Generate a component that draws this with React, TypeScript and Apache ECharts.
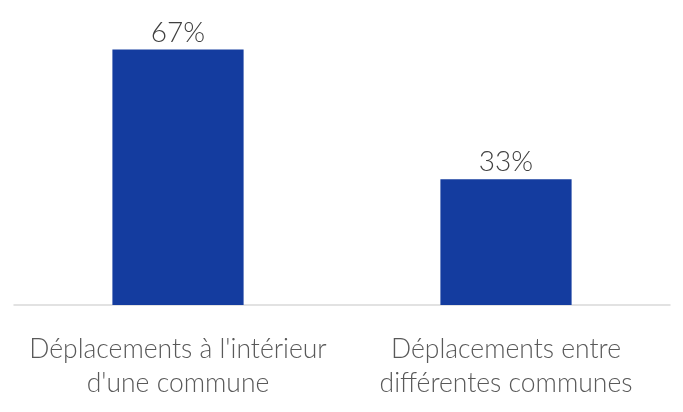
import React, { useEffect, useRef } from "react";
import * as echarts from "echarts";

const categories = ["Déplacements à l'intérieur\nd'une commune", "Déplacements entre\ndifférentes communes"];
const values = [67, 33];

export default function App() {
  const ref = useRef<HTMLDivElement>(null);
  useEffect(() => {
    const chart = echarts.init(ref.current!, null, { renderer: "svg" });
    chart.setOption({
      animation: false,
      grid: { left: 14, right: 13, top: 0, bottom: 107, containLabel: false },
      xAxis: {
        type: "category",
        data: categories,
        axisLine: { lineStyle: { color: "#d9d9d9", width: 1.5 } },
        axisTick: { show: false },
        axisLabel: {
          color: "#595959",
          fontFamily: "Lato",
          fontWeight: 300,
          fontSize: 26.5,
          lineHeight: 34,
          margin: 26,
          interval: 0,
        },
      },
      yAxis: { type: "value", min: 0, max: 80, show: false, splitLine: { show: false } },
      series: [
        {
          type: "bar",
          data: values,
          barWidth: "40%",
          itemStyle: { color: "#143C9F" },
          label: {
            show: true,
            position: "top",
            distance: 5,
            formatter: "{c}%",
            color: "#404040",
            fontFamily: "Lato",
            fontWeight: 300,
            fontSize: 28,
          },
        },
      ],
    });
    return () => chart.dispose();
  }, []);
  return <div ref={ref} style={{ position: "fixed", left: 0, top: 0, width: 683, height: 412 }} />;
}
